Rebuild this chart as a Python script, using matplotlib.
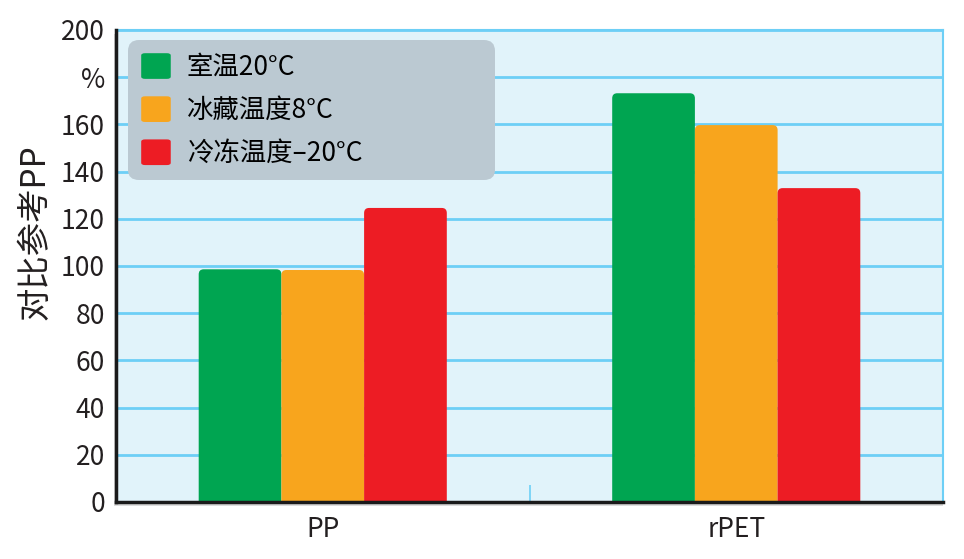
import matplotlib
matplotlib.use("Agg")
import matplotlib.pyplot as plt
from matplotlib.patches import FancyBboxPatch, Rectangle
import numpy as np

plt.rcParams['font.family'] = ['Noto Sans CJK SC', 'DejaVu Sans']

categories = ["PP", "rPET"]
series_names = ["室温20°C", "冰藏温度8°C", "冷冻温度–20°C"]
values_room = [98.6, 173.2]
values_chill = [98.3, 159.7]
values_freeze = [124.6, 133.0]
series_values = [values_room, values_chill, values_freeze]
colors = ["#00A551", "#F8A51D", "#ED1C24"]
yticks = [0, 20, 40, 60, 80, 100, 120, 140, 160, 180, 200]
ytick_labels = ["0", "20", "40", "60", "80", "100", "120", "140", "160", "%", "200"]
ylabel = "对比参考PP"

fig = plt.figure(figsize=(9.64, 5.59), dpi=100)
ax = fig.add_axes([116/964, 1-502/559, 827/964, 472/559])
ax.set_facecolor("#E1F3FA")

ax.set_xlim(-0.5, 1.5)
ax.set_ylim(0, 200)

# px per unit
xpx = 827 / 2.0
ypx = 472 / 200.0
rad_px = 5
x = np.arange(len(categories))
width = 0.2
for i, (vals, col, name) in enumerate(zip(series_values, colors, series_names)):
    bars = ax.bar(x + (i - 1) * width, vals, width, color=col, label=name, zorder=3)
    for b in bars:
        bx, by = b.get_x(), b.get_y()
        bw, bh = b.get_width(), b.get_height()
        b.set_visible(False)
        r = rad_px / xpx
        ext = 10 / ypx
        p = FancyBboxPatch((bx + r, by - ext + r * xpx / ypx), bw - 2 * r, bh + ext - 2 * r * xpx / ypx,
                           boxstyle=f"round,pad={r},rounding_size={r}",
                           mutation_aspect=xpx / ypx,
                           facecolor=col, edgecolor="none", zorder=3, clip_on=True)
        ax.add_patch(p)

ax.set_yticks(yticks)
ax.set_yticklabels(ytick_labels, fontsize=19, color="#231F20")
ax.yaxis.grid(True, color="#6DCFF6", linewidth=2, zorder=1)
ax.set_axisbelow(True)
ax.tick_params(axis='y', length=0, pad=8)
ax.set_xticks(x)
ax.set_xticklabels(categories, fontsize=19, color="#231F20")
ax.tick_params(axis='x', length=0, pad=10)
ax.set_xticks([0.5], minor=True)
ax.tick_params(axis='x', which='minor', direction='in', length=12, width=1.2, color="#6DCFF6")

ax.set_ylabel(ylabel, fontsize=24, color="#231F20")
ax.yaxis.set_label_coords(-0.077, 0.572)

for s in ["top", "right"]:
    ax.spines[s].set_color("#6DCFF6")
    ax.spines[s].set_linewidth(1.5)
for s in ["left", "bottom"]:
    ax.spines[s].set_color("#1A1A1A")
    ax.spines[s].set_linewidth(2.5)
    ax.spines[s].set_zorder(5)

# subtle drop shadow
shadow = Rectangle((116/964 - 0.002, 1-506/559), 829/964, 472/559, transform=fig.transFigure,
                   facecolor="#BBBBBB", edgecolor="none", alpha=0.5, zorder=-1)
fig.patches.append(shadow)

leg = ax.legend(loc="upper left", bbox_to_anchor=(12/827, 1-(40-30)/472 - 135/472, 367/827, 135/472),
                mode="expand", borderaxespad=0, fontsize=19, frameon=True, fancybox=True,
                handlelength=1.12, handleheight=1.12, handletextpad=0.6, labelspacing=0.58,
                borderpad=0.5)
frame = leg.get_frame()
frame.set_facecolor("#BBC9D2")
frame.set_edgecolor("none")
frame.set_alpha(1)
frame.set_boxstyle("round", pad=0, rounding_size=0.4)
for h, col in zip(leg.legend_handles, colors):
    h.set_visible(False)
# rounded square handles
fig.canvas.draw()
for h, col in zip(leg.legend_handles, colors):
    bb = h.get_window_extent()
    fb = fig.transFigure.inverted().transform(bb)
    (x0, y0), (x1, y1) = fb
    sq = FancyBboxPatch((x0, y0), x1 - x0, y1 - y0, boxstyle="round,pad=0,rounding_size=0.004",
                        transform=fig.transFigure, facecolor=col, edgecolor="none", zorder=10)
    fig.patches.append(sq)

fig.savefig("out.png", dpi=100)
